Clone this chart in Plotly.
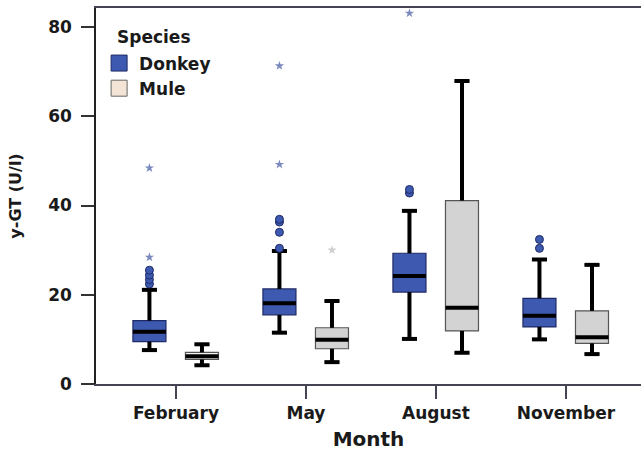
import plotly.graph_objects as go

months = ["February", "May", "August", "November"]

# Donkey box statistics
donkey_q1 = [9.5, 15.5, 20.6, 12.8]
donkey_med = [11.7, 18.1, 24.2, 15.3]
donkey_q3 = [14.2, 21.3, 29.3, 19.2]
donkey_lo = [7.6, 11.5, 10.1, 10.0]
donkey_hi = [21.1, 29.8, 38.8, 27.9]

# Mule box statistics
mule_q1 = [5.5, 7.9, 11.9, 9.1]
mule_med = [6.2, 9.9, 17.1, 10.5]
mule_q3 = [7.1, 12.6, 41.1, 16.4]
mule_lo = [4.2, 4.9, 7.0, 6.7]
mule_hi = [8.9, 18.6, 67.9, 26.7]

# Outliers (month index, value)
donkey_circle_month = [0, 0, 0, 0, 1, 1, 1, 1, 2, 2, 3, 3]
donkey_circle_value = [22.4, 23.4, 24.4, 25.5, 30.4, 34.0, 36.3, 36.9, 42.8, 43.6, 30.4, 32.4]
donkey_star_month = [0, 0, 1, 1, 2]
donkey_star_value = [28.4, 48.4, 49.2, 71.3, 83.1]
mule_star_month = [1]
mule_star_value = [30.0]

species = ["Donkey", "Mule"]

DONKEY_FILL = "#3E5AB0"
DONKEY_LINE = "#1E2A66"
MULE_FILLS = ["#F4F2EE", "#D3D3D3", "#D3D3D3", "#D3D3D3"]
MULE_LINE = "#555555"
MULE_LEGEND = "#F3E4D6"

OFF_D = -0.204
OFF_M = 0.200
BW = 0.254
CAP = 0.058

FONT = "DejaVu Sans, Verdana, sans-serif"

fig = go.Figure()


def add_boxes(off, q1, med, q3, lo, hi, fills, line):
    for i in range(len(months)):
        x = i + off
        fig.add_trace(go.Box(
            x=[x], q1=[q1[i]], median=[med[i]], q3=[q3[i]],
            lowerfence=[lo[i]], upperfence=[hi[i]],
            width=BW, fillcolor=fills[i], line=dict(color=line, width=1.2),
            whiskerwidth=0.45, boxpoints=False, showlegend=False,
            hoverinfo="skip",
        ))


def add_whiskers(off, q1, med, q3, lo, hi):
    xs, ys = [], []
    for i in range(len(months)):
        x = i + off
        xs += [x, x, None, x - CAP, x + CAP, None,
               x, x, None, x - CAP, x + CAP, None,
               x - BW / 2, x + BW / 2, None]
        ys += [q3[i], hi[i], None, hi[i], hi[i], None,
               q1[i], lo[i], None, lo[i], lo[i], None,
               med[i], med[i], None]
    fig.add_trace(go.Scatter(x=xs, y=ys, mode="lines",
                             line=dict(color="black", width=4),
                             showlegend=False, hoverinfo="skip"))


add_boxes(OFF_D, donkey_q1, donkey_med, donkey_q3, donkey_lo, donkey_hi,
          [DONKEY_FILL] * 4, DONKEY_LINE)
add_boxes(OFF_M, mule_q1, mule_med, mule_q3, mule_lo, mule_hi,
          MULE_FILLS, MULE_LINE)
add_whiskers(OFF_D, donkey_q1, donkey_med, donkey_q3, donkey_lo, donkey_hi)
add_whiskers(OFF_M, mule_q1, mule_med, mule_q3, mule_lo, mule_hi)

fig.add_trace(go.Scatter(
    x=[m + OFF_D for m in donkey_circle_month], y=donkey_circle_value,
    mode="markers", marker=dict(symbol="circle", size=8, color=DONKEY_FILL,
                                line=dict(color=DONKEY_LINE, width=1)),
    showlegend=False, hoverinfo="skip"))
fig.add_trace(go.Scatter(
    x=[m + OFF_D for m in donkey_star_month], y=donkey_star_value,
    mode="markers", marker=dict(symbol="star", size=7, color="#7A89BE"),
    showlegend=False, hoverinfo="skip"))
fig.add_trace(go.Scatter(
    x=[m + OFF_M for m in mule_star_month], y=mule_star_value,
    mode="markers", marker=dict(symbol="star", size=7, color="#CFCFCF"),
    showlegend=False, hoverinfo="skip"))

# Legend entries
fig.add_trace(go.Scatter(x=[None], y=[None], mode="markers",
                         name="<b>%s</b>" % species[0],
                         marker=dict(symbol="square", size=16, color=DONKEY_FILL,
                                     line=dict(color=DONKEY_LINE, width=1))))
fig.add_trace(go.Scatter(x=[None], y=[None], mode="markers",
                         name="<b>%s</b>" % species[1],
                         marker=dict(symbol="square", size=16, color=MULE_LEGEND,
                                     line=dict(color="#666666", width=1))))

fig.add_annotation(text="<b>Species</b>", xref="paper", yref="paper",
                   x=0.035, y=0.9229, xanchor="left", yanchor="middle",
                   showarrow=False, font=dict(size=17))

fig.update_layout(
    width=641, height=453,
    margin=dict(l=96, r=0, t=8, b=69),
    paper_bgcolor="white", plot_bgcolor="white",
    font=dict(family=FONT, size=17, color="#1a1a1a"),
    showlegend=True,
    legend=dict(
        font=dict(size=17),
        x=0.0057, y=0.9002, xanchor="left", yanchor="top",
        bgcolor="rgba(0,0,0,0)", itemsizing="trace",
    ),
    xaxis=dict(
        range=[-0.615, 3.577], tickvals=[0, 1, 2, 3],
        ticktext=["<b>%s</b>" % m for m in months],
        showline=True, linecolor="#444455", linewidth=1.5, mirror=True,
        ticks="outside", ticklen=13, tickcolor="#444455", tickwidth=1.5,
        showgrid=False, zeroline=False, automargin=False,
        title=dict(text="<b>Month</b>", standoff=10),
    ),
    yaxis=dict(
        range=[0, 84.26], tickvals=[0, 20, 40, 60, 80],
        ticktext=["<b>%d</b>" % v for v in [0, 20, 40, 60, 80]],
        showline=True, linecolor="#222222", linewidth=1.5,
        ticks="outside", ticklen=13, tickcolor="#333333", tickwidth=1.5,
        ticklabelstandoff=6,
        showgrid=False, zeroline=False, automargin=False,
        title=dict(text="<b>y-GT (U/l)</b>", font=dict(size=16), standoff=23),
    ),
)

fig.write_html("out.html", config={"displayModeBar": False},
               post_script="document.body.style.margin='0';document.body.style.padding='0';")
